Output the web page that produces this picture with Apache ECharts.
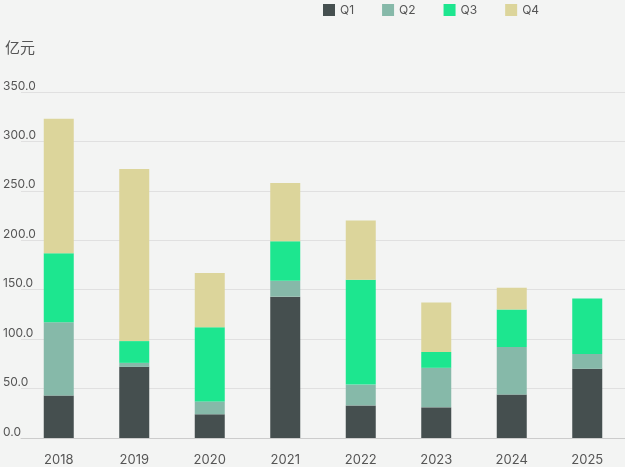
<!DOCTYPE html>
<html>
<head>
<meta charset="utf-8">
<script src="https://cdn.jsdelivr.net/npm/echarts@6/dist/echarts.min.js"></script>
<style>
  html, body { margin: 0; padding: 0; background: #f3f4f3; }
  #chart { width: 625px; height: 467px; }
</style>
</head>
<body>
<div id="chart"></div>
<script>
const years = ['2018', '2019', '2020', '2021', '2022', '2023', '2024', '2025']
const q1 = [43, 72, 24, 143, 33, 31, 44, 70]
const q2 = [74, 4, 13, 16, 21, 40, 48, 15]
const q3 = [70, 22, 75, 40, 106, 16, 38, 56]
const q4 = [136, 174, 55, 59, 60, 50, 22, 0]
const yTicks = { min: 0, max: 350, interval: 50 }

const myChart = echarts.init(document.getElementById('chart'))

const bar = (name, data) => ({
  name,
  type: 'bar',
  stack: 'total',
  data,
  barWidth: 30,
})

const option = {
  backgroundColor: '#f3f4f3',
  color: ['#454f4f', '#86b9a9', '#1de68f', '#dcd59b'],
  textStyle: { fontFamily: 'Inter, "Noto Sans CJK SC", sans-serif' },
  title: {
    text: '亿元',
    left: 0,
    top: 36,
    textStyle: { fontSize: 15, fontWeight: 'normal', color: '#555' },
  },
  legend: {
    left: 318,
    top: -1,
    itemWidth: 12,
    itemHeight: 12,
    itemGap: 28,
    icon: 'rect',
    textStyle: { color: '#555', fontSize: 12 },
  },
  grid: { left: 16, right: -15, top: 92, bottom: 26 },
  xAxis: {
    type: 'category',
    data: years,
    axisTick: { show: false },
    axisLine: { lineStyle: { color: '#ccc' } },
    axisLabel: { color: '#555', fontSize: 13, margin: 16 },
  },
  yAxis: {
    type: 'value',
    min: yTicks.min,
    max: yTicks.max,
    interval: yTicks.interval,
    axisLabel: {
      color: '#555',
      fontSize: 12,
      align: 'left',
      verticalAlign: 'bottom',
      margin: 18,
      formatter: (v) => v.toFixed(1),
    },
    splitLine: { lineStyle: { color: '#e0e0e0' } },
  },
  series: [bar('Q1', q1), bar('Q2', q2), bar('Q3', q3), bar('Q4', q4)],
}

myChart.setOption(option)
</script>
</body>
</html>
